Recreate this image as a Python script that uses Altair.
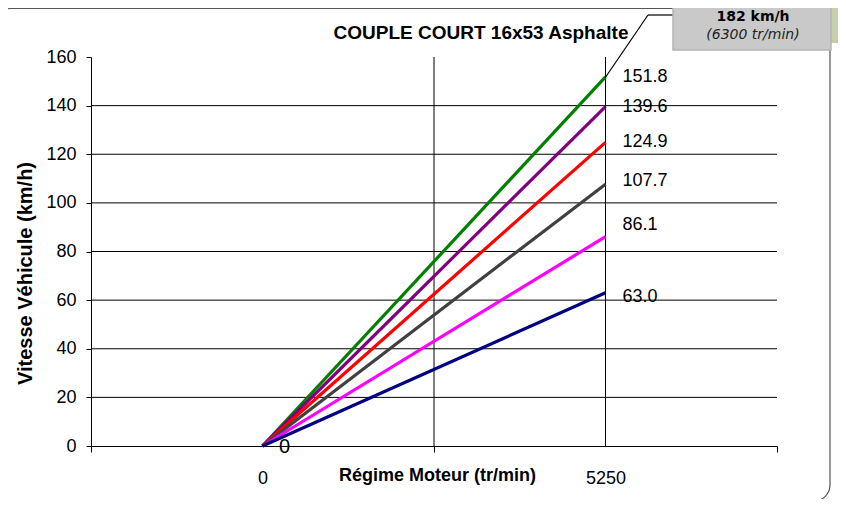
import altair as alt
import pandas as pd

# ---- data ----
series_labels = ["151.8", "139.6", "124.9", "107.7", "86.1", "63.0"]
end_speeds = [151.8, 139.6, 124.9, 107.7, 86.1, 63.0]
series_colors = ["#008000", "#800080", "#ff0000", "#404040", "#ff00ff", "#000080"]
rpm_start = 0
rpm_end = 5250
x_tick_values = [-2625, 0, 2625, 5250, 7875]
y_tick_values = [0, 20, 40, 60, 80, 100, 120, 140, 160]
h_grid = [20, 40, 60, 80, 100, 120, 140]
v_grid = [2625, 5250]
title_text = "COUPLE COURT 16x53 Asphalte"
callout_main = "182 km/h"
callout_sub = "(6300 tr/min)"

FONT = "Liberation Sans"
W, H = 686, 389

rows = []
for lab, v in zip(series_labels, end_speeds):
    rows.append({"serie": lab, "rpm": rpm_start, "v": 0.0})
    rows.append({"serie": lab, "rpm": rpm_end, "v": v})
df_lines = pd.DataFrame(rows)
df_ends = pd.DataFrame({"serie": series_labels, "rpm": [rpm_end] * len(end_speeds), "v": end_speeds})

xs = alt.Scale(domain=[-2625, 7875], nice=False, zero=False)
ys = alt.Scale(domain=[0, 160], nice=False)

x_axis = alt.Axis(
    values=x_tick_values,
    labelExpr="datum.value == 0 || datum.value == 5250 ? datum.label : ''",
    format="d",
    tickSize=6,
    tickColor="black",
    tickOpacity=alt.condition("datum.value == 0 || datum.value == 5250", alt.value(0), alt.value(1)),
    domainColor="black",
    grid=False,
    labelFont=FONT,
    labelFontSize=18,
    labelColor="black",
    labelPadding=17,
    title="Régime Moteur (tr/min)",
    titleFont=FONT,
    titleFontSize=18,
    titleFontWeight="bold",
    titleColor="black",
    titleX=346,
    titleY=29,
    titleAlign="center",
    titleBaseline="middle",
)
y_axis = alt.Axis(
    values=y_tick_values,
    tickSize=5,
    tickColor="black",
    domainColor="black",
    grid=False,
    labelFont=FONT,
    labelFontSize=18,
    labelColor="black",
    labelPadding=10,
    title="Vitesse Véhicule (km/h)",
    titleFont=FONT,
    titleFontSize=20,
    titleFontWeight="bold",
    titleColor="black",
    titleX=-56,
    titleY=216,
    titleAlign="center",
    titleBaseline="bottom",
)

# frame (decoration)
frame = alt.Chart().mark_rect(fill=None, stroke="#555555", strokeWidth=1.2, cornerRadius=16).encode(
    x=alt.value(-96), x2=alt.value(739), y=alt.value(-48.5), y2=alt.value(444)
)

hgrid = alt.Chart(pd.DataFrame({"v": h_grid})).mark_rule(color="black", strokeWidth=1).encode(
    y=alt.Y("v:Q", scale=ys, axis=y_axis), x=alt.value(0), x2=alt.value(W)
)
vgrid = alt.Chart(pd.DataFrame({"rpm": v_grid})).mark_rule(color="black", strokeWidth=1).encode(
    x=alt.X("rpm:Q", scale=xs, axis=x_axis), y=alt.value(0), y2=alt.value(H)
)

lines = alt.Chart(df_lines).mark_line(strokeWidth=3.2).encode(
    x=alt.X("rpm:Q", scale=xs, axis=x_axis),
    y=alt.Y("v:Q", scale=ys, axis=y_axis),
    color=alt.Color("serie:N", scale=alt.Scale(domain=series_labels, range=series_colors), legend=None),
    order=alt.Order("rpm:Q"),
)

label_dy = {"107.7": -3, "86.1": -12, "63.0": 4}
label_layers = []
for lab in series_labels:
    label_layers.append(
        alt.Chart(df_ends[df_ends.serie == lab]).mark_text(
            align="left", baseline="middle", dx=17, dy=label_dy.get(lab, 0),
            font=FONT, fontSize=18, color="black"
        ).encode(x=alt.X("rpm:Q", scale=xs, axis=x_axis), y=alt.Y("v:Q", scale=ys, axis=y_axis), text="serie:N")
    )

origin_label = alt.Chart(pd.DataFrame({"rpm": [rpm_start], "v": [0], "t": ["0"]})).mark_text(
    align="center", baseline="middle", dx=22, dy=1, font=FONT, fontSize=20, color="black"
).encode(x=alt.X("rpm:Q", scale=xs, axis=x_axis), y=alt.Y("v:Q", scale=ys, axis=y_axis), text="t:N")

title = alt.Chart().mark_text(
    text=title_text, font=FONT, fontSize=19, fontWeight="bold", color="black",
    align="center", baseline="middle"
).encode(x=alt.value(390), y=alt.value(-24))

# callout (decoration)
leader1 = alt.Chart().mark_rule(color="black", strokeWidth=1.2).encode(
    x=alt.value(514), y=alt.value(21), x2=alt.value(557), y2=alt.value(-42)
)
leader2 = alt.Chart().mark_rule(color="black", strokeWidth=1.2).encode(
    x=alt.value(557), y=alt.value(-42), x2=alt.value(582), y2=alt.value(-42)
)
side = alt.Chart().mark_rect(fill="#c4d0aa").encode(
    x=alt.value(740), x2=alt.value(760), y=alt.value(-60), y2=alt.value(-14)
)
box = alt.Chart().mark_rect(fill="#c9c9c9", stroke="#b4b4b4", strokeWidth=1.5).encode(
    x=alt.value(582), x2=alt.value(740), y=alt.value(-60), y2=alt.value(-7)
)
callout1 = alt.Chart().mark_text(
    text=callout_main, font="DejaVu Sans", fontSize=14, fontWeight="bold", color="black",
    align="center", baseline="middle"
).encode(x=alt.value(662), y=alt.value(-40))
callout2 = alt.Chart().mark_text(
    text=callout_sub, font="DejaVu Sans", fontSize=14, fontStyle="italic", color="#222222",
    align="center", baseline="middle"
).encode(x=alt.value(662), y=alt.value(-22))

chart = alt.layer(
    frame, hgrid, vgrid, lines, *label_layers, origin_label, title,
    leader1, leader2, side, box, callout1, callout2
).properties(
    width=W, height=H,
    background="white",
    autosize=alt.AutoSizeParams(type="none"),
    padding={"left": 83, "top": 49, "right": 61, "bottom": 53},
).configure_view(stroke=None)

chart.save("out.html", embed_options={"renderer": "svg", "actions": False})
